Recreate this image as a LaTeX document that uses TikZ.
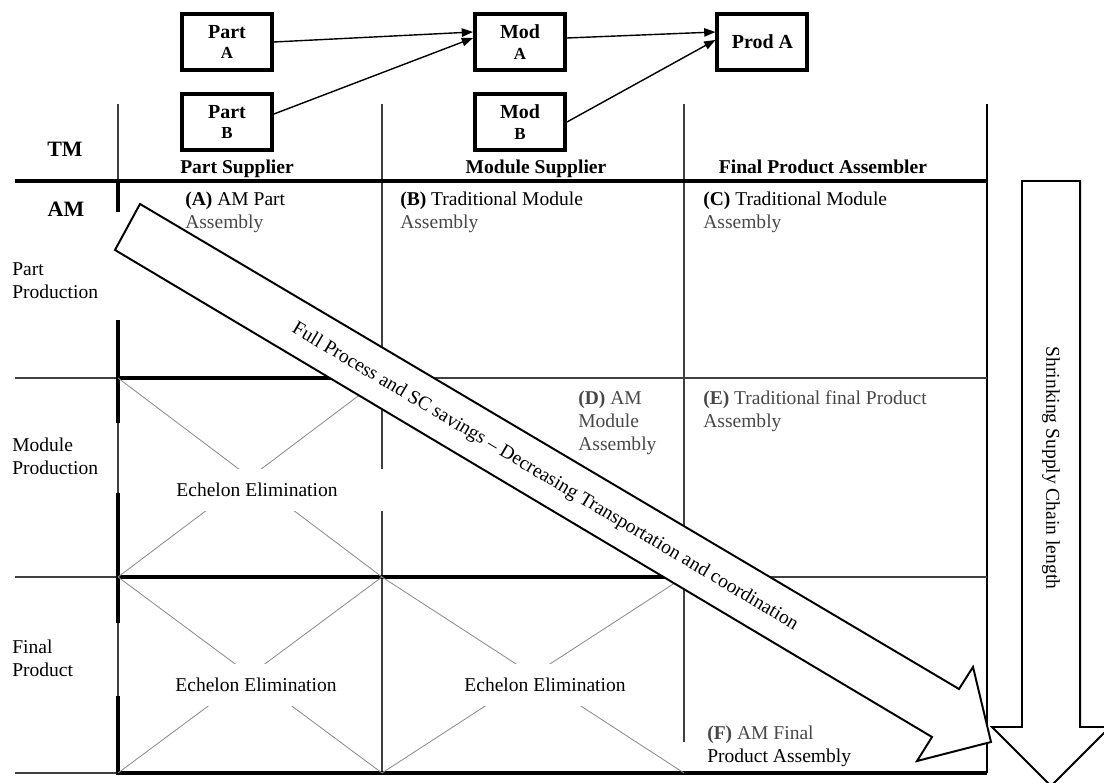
\documentclass[tikz,border=0pt]{standalone}
\usepackage{fontspec}
\setmainfont{Liberation Serif}
\usetikzlibrary{arrows.meta}

\colorlet{fadetext}{black!72}
\tikzset{
  thinline/.style={draw=black!75, line width=0.8pt},
  heavyline/.style={draw=black, line width=2.2pt},
  xline/.style={draw=black!45, line width=0.6pt},
  blockbox/.style={draw, line width=2.8pt, minimum width=2.25cm, minimum height=1.4cm, align=center, font=\fontsize{14.2}{14.5}\selectfont\bfseries},
  flow/.style={-{Triangle[length=8pt,width=6pt]}, line width=1pt},
  celltext/.style={anchor=base west, align=left, inner sep=0pt, font=\fontsize{13.9}{16.4}\selectfont},
  colhead/.style={anchor=base, inner sep=0pt, font=\fontsize{13.9}{16.4}\selectfont\bfseries},
  rowhead/.style={anchor=base, inner sep=0pt, font=\fontsize{15.6}{18}\selectfont\bfseries},
  echelon/.style={fill=white, minimum height=1.05cm, inner xsep=6pt, font=\fontsize{13.9}{16.4}\selectfont},
  bigarrow/.style={draw, fill=white, line width=1.4pt, line join=miter},
}

\begin{document}
\begin{tikzpicture}
    % Define the grid of the table
    \def\xA{2.95}
    \def\xB{9.55}
    \def\xC{17.1}
    \def\xD{24.675}
    \def\yT{16.975}
    \def\yH{15.05}
    \def\yM{10.125}
    \def\yF{5.15}
    \def\yB{0.25}

    \clip (0,0) rectangle (27.6,19.575);

    % Thin table lines
    \draw[thinline] (\xA,\yT) -- (\xA,14.275);
    \draw[thinline] (\xA,11.575) -- (\xA,\yB);
    \draw[thinline] (\xB,\yT) -- (\xB,\yB);
    \draw[thinline] (\xC,\yT) -- (\xC,1.025);
    \draw[black, line width=1.2pt] (\xD,\yT) -- (\xD,\yB);
    \draw[thinline] (0.375,\yM) -- (\xD,\yM);
    \draw[thinline] (0.375,\yF) -- (\xD,\yF);
    \draw[thinline] (0.375,\yB) -- (\xA,\yB);

    % Heavy borders (TM / AM split and eliminated echelons)
    \draw[black, line width=3.5pt] (0.375,\yH) -- (\xD,\yH);
    \draw[heavyline] (\xA,\yH) -- (\xA,14.275);
    \draw[heavyline] (\xA,11.575) -- (\xA,9.0);
    \draw[heavyline] (\xA,7.25) -- (\xA,4.0);
    \draw[heavyline] (\xA,2.175) -- (\xA,\yB) -- (\xD,\yB);
    \draw[heavyline] (\xA,\yM) -- (\xB,\yM);
    \draw[heavyline] (\xA,\yF) -- (\xC,\yF);

    % Crossed out cells
    \draw[xline] (\xA,\yM) -- (\xB,\yF) (\xB,\yM) -- (\xA,\yF);
    \draw[xline] (\xA,\yF) -- (\xB,\yB) (\xB,\yF) -- (\xA,\yB);
    \draw[xline] (\xB,\yF) -- (\xC,\yB) (\xC,\yF) -- (\xB,\yB);
    \node[echelon, minimum width=6.5cm] (elimA) at (6.425,7.325) {Echelon Elimination};
    \node[echelon] (elimB) at (6.4,2.45) {Echelon Elimination};
    \node[echelon] (elimC) at (13.625,2.45) {Echelon Elimination};

    % Diagonal savings arrow
    \draw[bigarrow] (3.5,14.475) -- (23.975,2.35) -- (24.325,2.9) -- (24.775,1.025)
        -- (22.925,0.55) -- (23.3,1.15) -- (2.875,13.325) -- cycle;
    \node[rotate=-30.7, font=\fontsize{13.9}{16.4}\selectfont] (savings) at (13.625,7.65)
        {Full Process and SC savings -- Decreasing Transportation and coordination};

    % Shrinking arrow on the right
    \draw[bigarrow] (25.55,15.05) -- (27.0,15.05) -- (27.0,1.4) -- (27.75,1.4)
        -- (26.275,-0.075) -- (24.8,1.4) -- (25.55,1.4) -- cycle;
    \node[rotate=-90, font=\fontsize{13.9}{16.4}\selectfont] (shrink) at (26.275,7.875)
        {Shrinking Supply Chain length};

    % Headers
    \node[rowhead] (tm) at (1.625,15.65) {TM};
    \node[rowhead] (am) at (1.65,14.15) {AM};
    \node[colhead] (partsup) at (5.925,15.2375) {Part Supplier};
    \node[colhead] (modsup) at (13.4,15.2375) {Module Supplier};
    \node[colhead] (finasm) at (20.575,15.2375) {Final Product Assembler};

    % Row labels (placed at the baseline of their last line)
    \node[celltext] (rowpart) at (0.3,12.1) {Part\\Production};
    \node[celltext] (rowmod) at (0.3,7.7125) {Module\\Production};
    \node[celltext] (rowfin) at (0.3,2.6625) {Final\\Product};

    % Cell texts
    \node[celltext] (cellA) at (4.625,13.865) {\textbf{(A)} AM Part\\\textcolor{fadetext}{Assembly}};
    \node[celltext] (cellB) at (10.0,13.865) {\textbf{(B)} Traditional Module\\\textcolor{fadetext}{Assembly}};
    \node[celltext] (cellC) at (17.575,13.865) {\textbf{(C)} Traditional Module\\\textcolor{fadetext}{Assembly}};
    \node[celltext, text=fadetext] (cellD) at (14.45,8.31) {\textbf{(D)} AM\\Module\\Assembly};
    \node[celltext, text=fadetext] (cellE) at (17.575,8.885) {\textbf{(E)} Traditional final Product\\Assembly};
    \node[celltext] (cellF) at (17.675,0.5125) {\textcolor{fadetext}{\textbf{(F)} AM Final}\\Product Assembly};

    % Traditional manufacturing flow
    \node[blockbox] (partA) at (5.675,18.525) {Part\\{\fontsize{12}{12}\selectfont A}};
    \node[blockbox] (partB) at (5.675,16.525) {Part\\{\fontsize{12}{12}\selectfont B}};
    \node[blockbox] (modA) at (13.0,18.525) {Mod\\{\fontsize{12}{12}\selectfont A}};
    \node[blockbox] (modB) at (13.0,16.525) {Mod\\{\fontsize{12}{12}\selectfont B}};
    \node[blockbox] (prodA) at (19.06,18.525) {Prod A};

    \draw[flow] (partA.east) -- ([yshift=0.25cm]modA.west);
    \draw[flow] ([yshift=0.2cm]partB.east) -- ([yshift=0.1cm]modA.west);
    \draw[flow] ([yshift=0.1cm]modA.east) -- ([yshift=0.25cm]prodA.west);
    \draw[flow] (modB.east) -- ([yshift=0.05cm]prodA.west);
\end{tikzpicture}
\end{document}
